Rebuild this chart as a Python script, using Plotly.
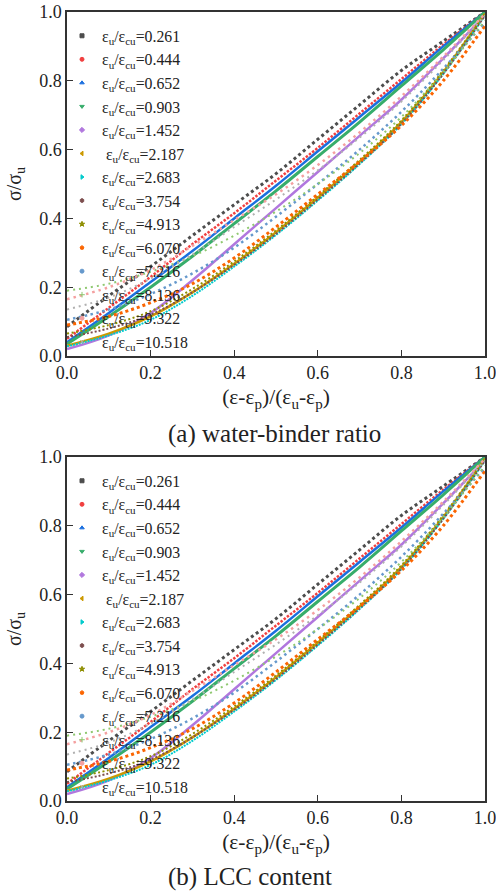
import plotly.graph_objects as go

# ---------------- data ----------------
XS = [0.0, 0.1, 0.2, 0.3, 0.4, 0.5, 0.6, 0.7, 0.8, 0.9, 1.0]

RATIOS = ["0.261", "0.444", "0.652", "0.903", "1.452", "2.187", "2.683",
          "3.754", "4.913", "6.070", "7.216", "8.136", "9.322", "10.518"]

Y_0261 = [0.085, 0.175, 0.26, 0.35, 0.44, 0.53, 0.63, 0.73, 0.83, 0.915, 1.0]
Y_0444 = [0.05, 0.14, 0.23, 0.325, 0.415, 0.51, 0.605, 0.705, 0.805, 0.905, 1.0]
Y_0652 = [0.04, 0.125, 0.215, 0.305, 0.40, 0.495, 0.595, 0.695, 0.795, 0.90, 1.0]
Y_0903 = [0.035, 0.115, 0.20, 0.29, 0.385, 0.48, 0.58, 0.68, 0.785, 0.89, 1.0]
Y_1452 = [0.02, 0.06, 0.125, 0.22, 0.325, 0.43, 0.535, 0.64, 0.745, 0.865, 0.99]
Y_2187 = [0.03, 0.065, 0.115, 0.185, 0.268, 0.36, 0.46, 0.565, 0.68, 0.825, 0.995]
Y_2683 = [0.028, 0.06, 0.105, 0.175, 0.26, 0.352, 0.452, 0.558, 0.674, 0.82, 0.99]
Y_3754 = [0.055, 0.08, 0.12, 0.185, 0.265, 0.355, 0.455, 0.56, 0.675, 0.82, 0.99]
Y_4913 = [0.065, 0.09, 0.13, 0.195, 0.275, 0.365, 0.465, 0.57, 0.685, 0.83, 0.995]
Y_6070 = [0.09, 0.115, 0.155, 0.21, 0.285, 0.375, 0.47, 0.565, 0.67, 0.80, 0.96]
Y_7216 = [0.105, 0.135, 0.18, 0.24, 0.315, 0.405, 0.50, 0.60, 0.71, 0.835, 0.97]
Y_8136 = [0.19, 0.21, 0.245, 0.29, 0.35, 0.42, 0.50, 0.59, 0.695, 0.825, 0.975]
Y_9322 = [0.165, 0.20, 0.25, 0.32, 0.395, 0.47, 0.555, 0.65, 0.755, 0.87, 0.995]
Y_10518 = [0.135, 0.17, 0.225, 0.295, 0.375, 0.455, 0.54, 0.635, 0.74, 0.86, 0.99]

SERIES = [Y_0261, Y_0444, Y_0652, Y_0903, Y_1452, Y_2187, Y_2683,
          Y_3754, Y_4913, Y_6070, Y_7216, Y_8136, Y_9322, Y_10518]

CAPTIONS = ["(a) water-binder ratio", "(b) LCC content"]
X_TICKS = [0.0, 0.2, 0.4, 0.6, 0.8, 1.0]

# ---------------- styles ----------------
COLORS = ["#4D4D4D", "#F14040", "#1A6FDF", "#37AD6B", "#B177DE", "#CC9900", "#00CBCC",
          "#7D4E4E", "#8E8E00", "#FB6501", "#6699CC", "#8FC870", "#F4A0A0", "#B0B0B0"]
SYMBOLS = ["square", "circle", "triangle-up", "triangle-down", "diamond", "triangle-left",
           "triangle-right", "hexagon", "star", "pentagon", "circle", "cross-thin",
           "circle", "x-thin"]
WIDTHS = [3, 2.5, 2.5, 3, 2.5, 2.5, 2, 2, 2, 3, 2.5, 2, 2.5, 2]
DASHES = ["3px,3px", "2.5px,1.5px", "solid", "solid", "solid", "solid", "2px,1px",
          "2px,2px", "2px,2.5px", "3px,3px", "2.5px,3.5px", "2px,4px", "2.5px,4px", "2px,4px"]

FONT = "Liberation Serif, Times New Roman, serif"
W, H = 496, 892

fig = go.Figure()

PANELS = [("x", "y", "legend"), ("x2", "y2", "legend2")]

for (xa, ya, lg) in PANELS:
    for i, ys in enumerate(SERIES):
        fig.add_trace(go.Scatter(
            x=XS, y=ys, xaxis=xa, yaxis=ya, mode="lines",
            line=dict(color=COLORS[i], width=WIDTHS[i], dash=DASHES[i], shape="spline"),
            showlegend=False, hoverinfo="skip"))
    for i, r in enumerate(RATIOS):
        lead = " " if r == "2.187" else ""
        fig.add_trace(go.Scatter(
            x=[None], y=[None], xaxis=xa, yaxis=ya, mode="markers",
            marker=dict(color=COLORS[i], symbol=SYMBOLS[i], size=4,
                        line=dict(color=COLORS[i], width=1)),
            name=lead + "ε<sub>u</sub>/ε<sub>cu</sub>=" + r,
            legend=lg, showlegend=True))


def px_x(p):
    return p / W


def px_y(p):
    return 1 - p / H


axis_common = dict(
    range=[0, 1], tickvals=X_TICKS, tickformat=".1f", ticks="inside", ticklen=6,
    tickwidth=1.3, tickcolor="#333", showline=True, linecolor="#333", linewidth=1.5,
    mirror=True, showgrid=False, zeroline=False, automargin=False,
    ticklabeloverflow="allow",
    tickfont=dict(family=FONT, size=18, color="#222"),
)

xdom = [px_x(67), px_x(485)]
ydoms = [[px_y(356), px_y(12)], [px_y(801), px_y(457)]]

XT = "(ε-ε<sub>p</sub>)/(ε<sub>u</sub>-ε<sub>p</sub>)"
YT = "σ/σ<sub>u</sub>"
XTF = dict(family=FONT, size=21.5, color="#222")
YTF = dict(family=FONT, size=20, color="#222")

fig.update_layout(
    width=W, height=H, margin=dict(l=0, r=0, t=0, b=0, autoexpand=False),
    paper_bgcolor="white", plot_bgcolor="white",
    font=dict(family=FONT, color="#222"),
    xaxis=dict(domain=xdom, anchor="y", **axis_common,
               title=dict(text=XT, font=XTF, standoff=7)),
    yaxis=dict(domain=ydoms[0], anchor="x", **axis_common,
               title=dict(text=YT, font=YTF, standoff=12)),
    xaxis2=dict(domain=xdom, anchor="y2", **axis_common,
                title=dict(text=XT, font=XTF, standoff=7)),
    yaxis2=dict(domain=ydoms[1], anchor="x2", **axis_common,
                title=dict(text=YT, font=YTF, standoff=12)),
    legend=dict(x=px_x(62), xanchor="left", y=px_y(19), yanchor="top",
                bgcolor="rgba(0,0,0,0)", borderwidth=0,
                font=dict(family=FONT, size=15.8, color="#222"), itemwidth=30),
    legend2=dict(x=px_x(62), xanchor="left", y=px_y(464), yanchor="top",
                 bgcolor="rgba(0,0,0,0)", borderwidth=0,
                 font=dict(family=FONT, size=15.8, color="#222"), itemwidth=30),
    annotations=[
        dict(text=CAPTIONS[0], x=px_x(274), y=px_y(434), xref="paper", yref="paper",
             showarrow=False, font=dict(family=FONT, size=25, color="#222"),
             xanchor="center", yanchor="middle"),
        dict(text=CAPTIONS[1], x=px_x(250), y=px_y(877), xref="paper", yref="paper",
             showarrow=False, font=dict(family=FONT, size=25, color="#222"),
             xanchor="center", yanchor="middle"),
    ],
)

fig.write_html("out.html", config={"displayModeBar": False},
               post_script="document.body.style.margin='0';document.body.style.padding='0';")
